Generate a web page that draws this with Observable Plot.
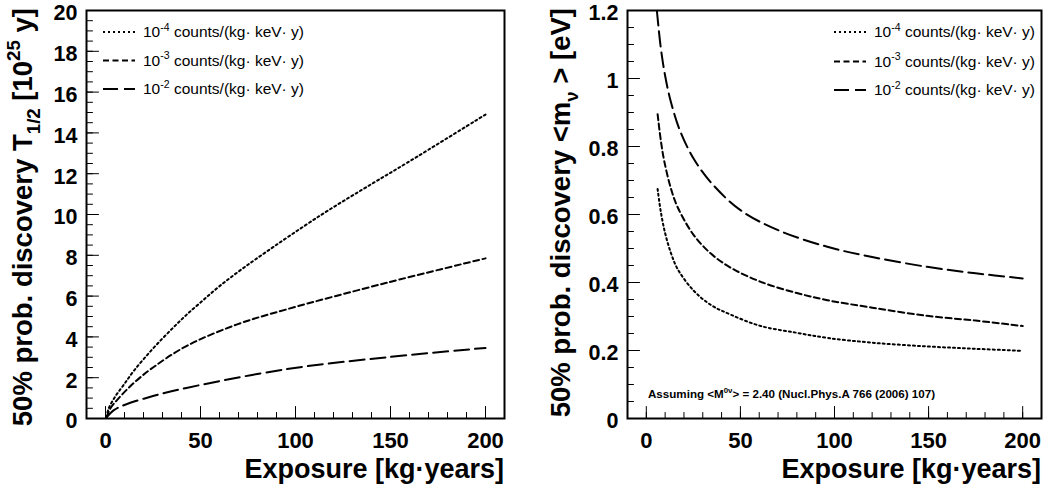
<!DOCTYPE html>
<html><head><meta charset="utf-8">
<script src="https://cdn.jsdelivr.net/npm/d3@7"></script>
<script src="https://cdn.jsdelivr.net/npm/@observablehq/plot@0.6"></script>
<style>
body{margin:0;background:#fff;}
#wrap{display:flex;width:1048px;height:488px;overflow:hidden;}
svg text{white-space:pre;}
</style></head><body><div id="wrap"></div>
<script>
// ---------- data ----------
const seriesNames = ["1e-4", "1e-3", "1e-2"];
const legendExponents = ["-4", "-3", "-2"];
const legendUnit = " counts/(kg· keV· y)";

// Left panel: 50% discovery half-life [1e25 y] vs exposure [kg·years]
const halfLifeX_1e4 = [0.5, 1.7, 5.3, 9.6, 14.6, 20.7, 27.7, 35.6, 42.6, 51.4, 60.2, 70.7, 82, 113, 141, 159, 200];
const halfLifeY_1e4 = [0.05, 0.5, 1.1, 1.65, 2.3, 2.98, 3.7, 4.45, 5.08, 5.8, 6.5, 7.25, 8.0, 9.95, 11.55, 12.55, 14.9];
const halfLifeX_1e3 = [0.5, 2.6, 7, 15, 25, 42.6, 68.9, 95.3, 147.9, 200];
const halfLifeY_1e3 = [0.05, 0.5, 1.0, 1.75, 2.5, 3.55, 4.6, 5.35, 6.65, 7.85];
const halfLifeX_1e2 = [0.5, 4.4, 9.6, 25, 42.6, 95.3, 147.9, 200];
const halfLifeY_1e2 = [0.05, 0.41, 0.65, 1.1, 1.5, 2.42, 3.0, 3.46];

// Right panel: 50% discovery <m_nu> [eV] vs exposure
const massX_1e4 = [6, 7.7, 10, 13, 16.6, 25, 34.3, 45, 60.8, 80, 96.2, 120, 149.2, 175, 200];
const massY_1e4 = [0.675, 0.608, 0.545, 0.488, 0.44, 0.377, 0.334, 0.305, 0.272, 0.252, 0.237, 0.223, 0.212, 0.205, 0.199];
const massX_1e3 = [6, 7.7, 9.5, 13, 16.6, 25, 34.3, 45, 60.8, 80, 96.2, 120, 149.2, 175, 200];
const massY_1e3 = [0.895, 0.818, 0.758, 0.678, 0.622, 0.541, 0.485, 0.443, 0.402, 0.369, 0.348, 0.326, 0.302, 0.288, 0.272];
const massX_1e2 = [5.6, 7.7, 10, 13.1, 18, 25.5, 35, 50.2, 70, 96.2, 120, 149.2, 175, 200];
const massY_1e2 = [1.2, 1.09, 1.008, 0.93, 0.845, 0.761, 0.69, 0.612, 0.554, 0.505, 0.475, 0.446, 0.427, 0.412];

// ticks
const xMajorTicks = [0, 50, 100, 150, 200];
const leftYMajorTicks = [0, 2, 4, 6, 8, 10, 12, 14, 16, 18, 20];
const rightYMajorTicks = [0, 0.2, 0.4, 0.6, 0.8, 1, 1.2];
const xMinorTicks = d3.range(0, 201, 10);
const leftYMinorTicks = d3.range(0, 20.01, 0.5);
const rightYMinorTicks = d3.range(0, 1.2001, 0.05);

// ---------- helpers ----------
const FONT = "'Liberation Sans', Arial, Helvetica, sans-serif";
const dashes = {"1e-4": "2,3", "1e-3": "6,3.5", "1e-2": "15,6"};
const toRows = (xs, ys) => xs.map((x, i) => ({x, y: ys[i]}));
const tickShape = {draw(context, l) { context.moveTo(0, 0); context.lineTo(0, -l); }};

function rich(svg, {x, y, rotate = 0, size, weight = "bold", anchor = "start"}, parts) {
  const t = d3.select(svg).append("text")
    .attr("transform", `translate(${x},${y})` + (rotate ? ` rotate(${rotate})` : ""))
    .attr("text-anchor", anchor).attr("font-size", size).attr("font-weight", weight)
    .attr("font-family", FONT).attr("fill", "black");
  let shift = 0;
  for (const [s, kind] of parts) {
    const small = size * 0.68;
    const target = kind === "sub" ? size * 0.3 : kind === "sup" ? -size * 0.42 : 0;
    t.append("tspan").attr("dy", target - shift).attr("font-size", kind ? small : size).text(s);
    shift = target;
  }
}

function legend(svg, x0, rows, size) {
  const g = d3.select(svg);
  seriesNames.forEach((name, i) => {
    g.append("line").attr("x1", x0).attr("x2", x0 + 32).attr("y1", rows[i]).attr("y2", rows[i])
      .attr("stroke", "black").attr("stroke-width", 2).attr("stroke-dasharray", dashes[name]);
    rich(svg, {x: x0 + 40, y: rows[i] + 5, size, weight: "normal"},
      [["10", null], [legendExponents[i], "sup"], [legendUnit, null]]);
  });
}

function panel({ymax, yMajor, yMinor, marginLeft, marginRight, data, yFormat}) {
  const tickOpts = {stroke: "black", strokeWidth: 1, shape: tickShape, anchor: "start"};
  return Plot.plot({
    width: 524, height: 488,
    marginLeft, marginRight, marginTop: 10, marginBottom: 70,
    x: {domain: [-10, 210]},
    y: {domain: [0, ymax]},
    style: {fontFamily: FONT, color: "black", background: "white", overflow: "visible"},
    marks: [
      // inward ticks (ROOT style)
      Plot.vector(xMinorTicks, {...tickOpts, x: d => d, y: 0, length: 6, rotate: 0}),
      Plot.vector(xMajorTicks, {...tickOpts, x: d => d, y: 0, length: 12, rotate: 0}),
      Plot.vector(yMinor, {...tickOpts, x: -10, y: d => d, length: 6, rotate: 90}),
      Plot.vector(yMajor, {...tickOpts, x: -10, y: d => d, length: 12, rotate: 90}),
      Plot.axisX(xMajorTicks, {tickSize: 0, tickPadding: 14, fontSize: 22, fontWeight: "bold", label: null, tickFormat: d => String(d)}),
      Plot.axisY(yMajor, {tickSize: 0, tickPadding: 9, dy: 3, fontSize: 21.5, fontWeight: "bold", label: null, tickFormat: yFormat}),
      ...data.map(([name, rows]) => Plot.line(rows, {x: "x", y: "y", stroke: "black", strokeWidth: 2,
        strokeDasharray: dashes[name], curve: "catmull-rom", clip: true})),
      Plot.frame({stroke: "black", strokeWidth: 2})
    ]
  });
}

const wrap = document.getElementById("wrap");

// ---------- left ----------
const left = panel({
  ymax: 20, yMajor: leftYMajorTicks, yMinor: leftYMinorTicks, marginLeft: 86, marginRight: 20,
  yFormat: d => String(d),
  data: [["1e-4", toRows(halfLifeX_1e4, halfLifeY_1e4)], ["1e-3", toRows(halfLifeX_1e3, halfLifeY_1e3)], ["1e-2", toRows(halfLifeX_1e2, halfLifeY_1e2)]]
});
wrap.appendChild(left);
legend(left, 103, [32, 60.5, 89], 15.5);
rich(left, {x: 32, y: 8, rotate: -90, size: 27.5, anchor: "end"},
  [["50% prob. discovery T", null], ["1/2", "sub"], [" [10", null], ["25", "sup"], [" y]", null]]);
rich(left, {x: 504, y: 478, size: 27, anchor: "end"}, [["Exposure [kg·years]", null]]);

// ---------- right ----------
const right = panel({
  ymax: 1.2, yMajor: rightYMajorTicks, yMinor: rightYMinorTicks, marginLeft: 103, marginRight: 7,
  yFormat: d => String(d),
  data: [["1e-4", toRows(massX_1e4, massY_1e4)], ["1e-3", toRows(massX_1e3, massY_1e3)], ["1e-2", toRows(massX_1e2, massY_1e2)]]
});
wrap.appendChild(right);
legend(right, 310, [32, 61.5, 90], 15.5);
rich(right, {x: 46, y: 8, rotate: -90, size: 27.5, anchor: "end"},
  [["50% prob. discovery <m", null], ["ν", "sub"], [" > [eV]", null]]);
rich(right, {x: 517, y: 478, size: 27, anchor: "end"}, [["Exposure [kg·years]", null]]);
rich(right, {x: 124, y: 398, size: 11.6, anchor: "start"},
  [["Assuming <M", null], ["0ν", "sup"], ["> = 2.40 (Nucl.Phys.A 766 (2006) 107)", null]]);
</script></body></html>
